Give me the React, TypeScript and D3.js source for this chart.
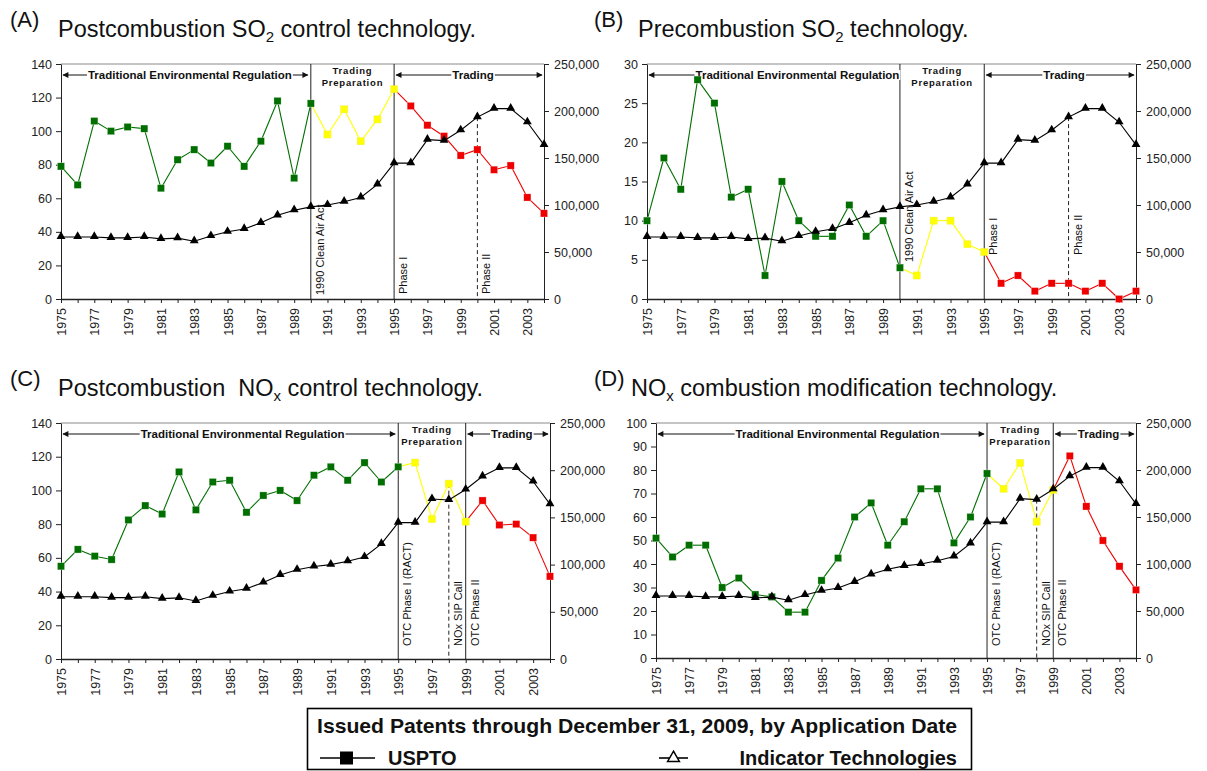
import { useEffect, useRef } from 'react';
import * as d3 from 'd3';

const W = 1207, H = 771;
const FONT = '"Liberation Sans", Arial, Helvetica, sans-serif';
const GREEN = '#006f00', YELLOW = '#ffff00', RED = '#ee0000';

const years = [
  1975, 1976, 1977, 1978, 1979, 1980, 1981, 1982, 1983, 1984,
  1985, 1986, 1987, 1988, 1989, 1990, 1991, 1992, 1993, 1994,
  1995, 1996, 1997, 1998, 1999, 2000, 2001, 2002, 2003, 2004,
];
const rightTicks = [0, 50000, 100000, 150000, 200000, 250000];
const ticks140 = [0, 20, 40, 60, 80, 100, 120, 140];
const ticks30 = [0, 5, 10, 15, 20, 25, 30];
const ticks100 = [0, 10, 20, 30, 40, 50, 60, 70, 80, 90, 100];

// indicator technologies (right axis), same series in every panel
const indicatorTech = [
  66000, 66000, 66000, 65000, 65000, 66000, 64000, 64800, 61500, 67000,
  71500, 74500, 81000, 89000, 94500, 98000, 100000, 103500, 108000, 122000,
  144500, 144500, 169500, 168500, 179500, 193500, 202500, 202500, 188000, 164000,
];

// USPTO patents (left axis)
const usptoA = [
  79, 68, 106, 100, 102.5, 101.5, 66, 83, 89, 81,
  91, 79, 94, 118, 72, 116.5, 98, 113, 94, 107,
  125, 115, 103.5, 97, 85.5, 89, 77, 79.5, 60.5, 51,
];
const usptoB = [
  10, 18, 14, 28, 25, 13, 14, 3, 15, 10,
  8, 8, 12, 8, 10, 4, 3, 10, 10, 7,
  6, 2, 3, 1, 2, 2, 1, 2, 0, 1,
];
const usptoC = [
  55, 65, 61, 59, 82.5, 91, 86, 111, 88.5, 105,
  106, 87, 97, 100, 94, 109, 114, 106, 116.5, 105,
  114, 116.5, 83, 104, 81.5, 94, 79.5, 80, 72, 49,
];
const usptoD = [
  51, 43, 48, 48, 30, 34, 27, 26, 19.5, 19.5,
  33, 42.5, 60, 66, 48, 58, 72, 72, 49, 60,
  78.5, 72, 83, 58, 71.5, 86, 64.5, 50, 39, 29,
];

const panels = [
  {
    tag: '(A)', title: ['Postcombustion SO', '2', ' control technology.'],
    tagX: 10, titleX: 58, titleY: 37,
    left: 61, right: 544, top: 64, bottom: 299, max: 140, ticks: ticks140, uspto: usptoA,
    phases: [1990, 1995], tradShift: 4,
    events: [
      { year: 1990, text: '1990 Clean Air Act', lift: 4 },
      { year: 1995, text: 'Phase I', lift: 5 },
      { year: 2000, text: 'Phase II', lift: 5, dashed: true },
    ],
  },
  {
    tag: '(B)', title: ['Precombustion SO', '2', ' technology.'],
    tagX: 594, titleX: 638, titleY: 37,
    left: 647, right: 1136, top: 64, bottom: 299, max: 30, ticks: ticks30, uspto: usptoB,
    phases: [1990, 1995], tradShift: 24,
    events: [
      { year: 1990, text: '1990 Clean Air Act', lift: 37 },
      { year: 1995, text: 'Phase I', lift: 44 },
      { year: 2000, text: 'Phase II', lift: 44, dashed: true },
    ],
  },
  {
    tag: '(C)', title: ['Postcombustion  NO', 'x', ' control technology.'],
    tagX: 10, titleX: 58, titleY: 396,
    left: 61, right: 550, top: 423, bottom: 659, max: 140, ticks: ticks140, uspto: usptoC,
    phases: [1995, 1999], tradShift: 13,
    events: [
      { year: 1995, text: 'OTC Phase I (RACT)', lift: 13 },
      { year: 1998, text: 'NOx SIP Call', lift: 13, dashed: true },
      { year: 1999, text: 'OTC Phase II', lift: 13 },
    ],
  },
  {
    tag: '(D)', title: ['NO', 'x', ' combustion modification technology.'],
    tagX: 594, titleX: 631, titleY: 396,
    left: 656, right: 1136, top: 423, bottom: 658, max: 100, ticks: ticks100, uspto: usptoD,
    phases: [1995, 1999], tradShift: 16,
    events: [
      { year: 1995, text: 'OTC Phase I (RACT)', lift: 12 },
      { year: 1998, text: 'NOx SIP Call', lift: 12, dashed: true },
      { year: 1999, text: 'OTC Phase II', lift: 12 },
    ],
  },
];

function bgText(g, x, y, str, size, shift = 0) {
  const t = g.append('text')
    .attr('x', x + shift).attr('y', y)
    .attr('text-anchor', 'middle')
    .attr('font-family', FONT).attr('font-weight', 700).attr('font-size', size)
    .attr('fill', '#111')
    .text(str);
  const b = (t.node() as SVGTextElement).getBBox();
  g.insert('rect', () => t.node())
    .attr('x', b.x - 1).attr('y', b.y + 1).attr('width', b.width + 2).attr('height', b.height - 2)
    .attr('fill', '#fff');
}

function drawPanel(svg, p) {
  const g = svg.append('g');
  const x = d3.scaleLinear().domain([1975, 2004]).range([p.left, p.right]);
  const yL = d3.scaleLinear().domain([0, p.max]).range([p.bottom, p.top]);
  const yR = d3.scaleLinear().domain([0, 250000]).range([p.bottom, p.top]);

  // titles
  g.append('text').attr('x', p.tagX).attr('y', p.titleY - 10)
    .attr('font-family', FONT).attr('font-size', 22).attr('fill', '#111').text(p.tag);
  const tt = g.append('text').attr('x', p.titleX).attr('y', p.titleY)
    .attr('font-family', FONT).attr('font-size', 23.5).attr('fill', '#111')
    .style('white-space', 'pre');
  tt.append('tspan').text(p.title[0]);
  tt.append('tspan').attr('dy', 5).attr('font-size', 15).text(p.title[1]);
  tt.append('tspan').attr('dy', -5).text(p.title[2]);

  // top border
  g.append('line').attr('x1', p.left).attr('x2', p.right).attr('y1', p.top).attr('y2', p.top)
    .attr('stroke', '#8a8a8a');

  // axes
  const styleAxis = (ax) => {
    ax.selectAll('text').attr('font-family', FONT).attr('font-size', 12.5).attr('fill', '#222');
    ax.selectAll('line').attr('stroke', '#222');
    ax.select('.domain').attr('stroke', '#222');
  };
  g.append('g').attr('transform', `translate(${p.left},0)`)
    .call(d3.axisLeft(yL).tickValues(p.ticks).tickSize(5).tickSizeOuter(0).tickPadding(4))
    .call(styleAxis);
  g.append('g').attr('transform', `translate(${p.right},0)`)
    .call(d3.axisRight(yR).tickValues(rightTicks).tickSize(5).tickSizeOuter(0).tickPadding(5)
      .tickFormat(d3.format(',')))
    .call(styleAxis);
  g.append('g').attr('transform', `translate(0,${p.bottom})`)
    .call(d3.axisBottom(x).tickValues(years).tickSize(4).tickSizeOuter(0)
      .tickFormat((d) => (d % 2 === 1 ? String(d) : '')))
    .call(styleAxis)
    .call((ax) => {
      ax.select('.domain').attr('stroke-width', 1.6);
      ax.selectAll('text')
        .attr('transform', 'rotate(-90)')
        .attr('text-anchor', 'end')
        .attr('x', -9).attr('y', 0).attr('dy', '0.36em');
    });

  // phase lines and event lines
  p.events.forEach((e) => {
    const i = years.indexOf(e.year);
    const y0 = e.dashed ? Math.min(yL(p.uspto[i]), yR(indicatorTech[i])) : p.top;
    g.append('line')
      .attr('x1', x(e.year)).attr('x2', x(e.year)).attr('y1', y0).attr('y2', p.bottom)
      .attr('stroke', '#222').attr('stroke-width', 1)
      .attr('stroke-dasharray', e.dashed ? '4,3' : null);
    g.append('text')
      .attr('transform', `translate(${x(e.year) + 13},${p.bottom - e.lift}) rotate(-90)`)
      .attr('font-family', FONT).attr('font-size', 11).attr('fill', '#111')
      .text(e.text);
  });
  p.phases.forEach((yr) => {
    if (p.events.some((e) => e.year === yr)) return;
    g.append('line').attr('x1', x(yr)).attr('x2', x(yr)).attr('y1', p.top).attr('y2', p.bottom)
      .attr('stroke', '#222');
  });

  // period band annotations
  const bandY = p.top + 11;
  const arrow = (x1, x2) => g.append('line')
    .attr('x1', x1).attr('x2', x2).attr('y1', bandY).attr('y2', bandY)
    .attr('stroke', '#111').attr('stroke-width', 1)
    .attr('marker-start', 'url(#arrowHead)').attr('marker-end', 'url(#arrowHead)');
  const [p0, p1] = p.phases;
  arrow(x(1975) + 2, x(p0) - 3);
  bgText(g, (x(1975) + x(p0)) / 2, bandY + 4, 'Traditional Environmental Regulation', 11.5, p.tradShift);
  arrow(x(p1) + 2, x(2004) - 2);
  bgText(g, (x(p1) + x(2004)) / 2, bandY + 4, 'Trading', 11.5, 4);
  const mid = (x(p0) + x(p1)) / 2;
  ['Trading', 'Preparation'].forEach((s, k) => {
    g.append('text').attr('x', mid).attr('y', p.top + 10 + k * 11.5)
      .attr('text-anchor', 'middle')
      .attr('font-family', FONT).attr('font-weight', 700).attr('font-size', 9.5)
      .attr('letter-spacing', 0.8).attr('fill', '#111').text(s);
  });

  // USPTO series, coloured by period
  const colorOf = (yr) => (yr <= p0 ? GREEN : yr <= p1 ? YELLOW : RED);
  g.append('g').selectAll('line')
    .data(years.slice(1))
    .join('line')
    .attr('x1', (d, i) => x(years[i])).attr('y1', (d, i) => yL(p.uspto[i]))
    .attr('x2', (d) => x(d)).attr('y2', (d, i) => yL(p.uspto[i + 1]))
    .attr('stroke', (d) => colorOf(d)).attr('stroke-width', 1.1);
  g.append('g').selectAll('rect')
    .data(years)
    .join('rect')
    .attr('x', (d) => x(d) - 3.6).attr('y', (d, i) => yL(p.uspto[i]) - 3.6)
    .attr('width', 7.2).attr('height', 7.2)
    .attr('fill', (d) => colorOf(d))
    .attr('stroke', (d) => (colorOf(d) === YELLOW ? '#e8e860' : '#ffffff'))
    .attr('stroke-width', 0.5).attr('stroke-opacity', 0.6);

  // indicator technologies
  const line = d3.line<number>().x((d, i) => x(years[i])).y((d) => yR(d));
  g.append('path').datum(indicatorTech).attr('d', line)
    .attr('fill', 'none').attr('stroke', '#000').attr('stroke-width', 1.1);
  const tri = d3.symbol().type(d3.symbolTriangle).size(34);
  g.append('g').selectAll('path')
    .data(indicatorTech)
    .join('path')
    .attr('transform', (d, i) => `translate(${x(years[i])},${yR(d) - 0.5})`)
    .attr('d', tri)
    .attr('fill', '#000');
}

function drawLegend(svg) {
  const g = svg.append('g');
  g.append('rect').attr('x', 307.5).attr('y', 708.5).attr('width', 664).attr('height', 61)
    .attr('fill', '#fff').attr('stroke', '#000').attr('stroke-width', 1.6);
  g.append('text').attr('x', 637).attr('y', 733).attr('text-anchor', 'middle')
    .attr('font-family', FONT).attr('font-weight', 700).attr('font-size', 21)
    .attr('textLength', 640).attr('lengthAdjust', 'spacingAndGlyphs')
    .attr('fill', '#111')
    .text('Issued Patents through December 31, 2009, by Application Date');
  const ly = 758;
  g.append('line').attr('x1', 320).attr('x2', 375).attr('y1', ly).attr('y2', ly)
    .attr('stroke', '#000').attr('stroke-width', 1.6);
  g.append('rect').attr('x', 340).attr('y', ly - 6.5).attr('width', 13).attr('height', 13).attr('fill', '#000');
  g.append('text').attr('x', 388).attr('y', 765)
    .attr('font-family', FONT).attr('font-weight', 700).attr('font-size', 20).attr('fill', '#111')
    .text('USPTO');
  g.append('line').attr('x1', 659).attr('x2', 688).attr('y1', ly).attr('y2', ly)
    .attr('stroke', '#000').attr('stroke-width', 1.6);
  g.append('path')
    .attr('transform', `translate(673.5,${ly})`)
    .attr('d', d3.symbol().type(d3.symbolTriangle).size(60)())
    .attr('fill', '#fff').attr('stroke', '#000').attr('stroke-width', 1.5);
  g.append('text').attr('x', 957).attr('y', 765).attr('text-anchor', 'end')
    .attr('font-family', FONT).attr('font-weight', 700).attr('font-size', 20).attr('fill', '#111')
    .text('Indicator Technologies');
}

export default function App() {
  const svgRef = useRef(null);

  useEffect(() => {
    const svg = d3.select(svgRef.current);
    svg.selectAll('*').remove();

    svg.append('defs').append('marker')
      .attr('id', 'arrowHead')
      .attr('viewBox', '0 0 10 10')
      .attr('refX', 9).attr('refY', 5)
      .attr('markerWidth', 7).attr('markerHeight', 6)
      .attr('markerUnits', 'userSpaceOnUse')
      .attr('orient', 'auto-start-reverse')
      .append('path').attr('d', 'M0,0L10,5L0,10Z').attr('fill', '#111');

    panels.forEach((p) => drawPanel(svg, p));
    drawLegend(svg);
  }, []);

  return (
    <svg
      ref={svgRef}
      width={W}
      height={H}
      style={{ position: 'absolute', left: 0, top: 0, background: '#fff' }}
    />
  );
}
